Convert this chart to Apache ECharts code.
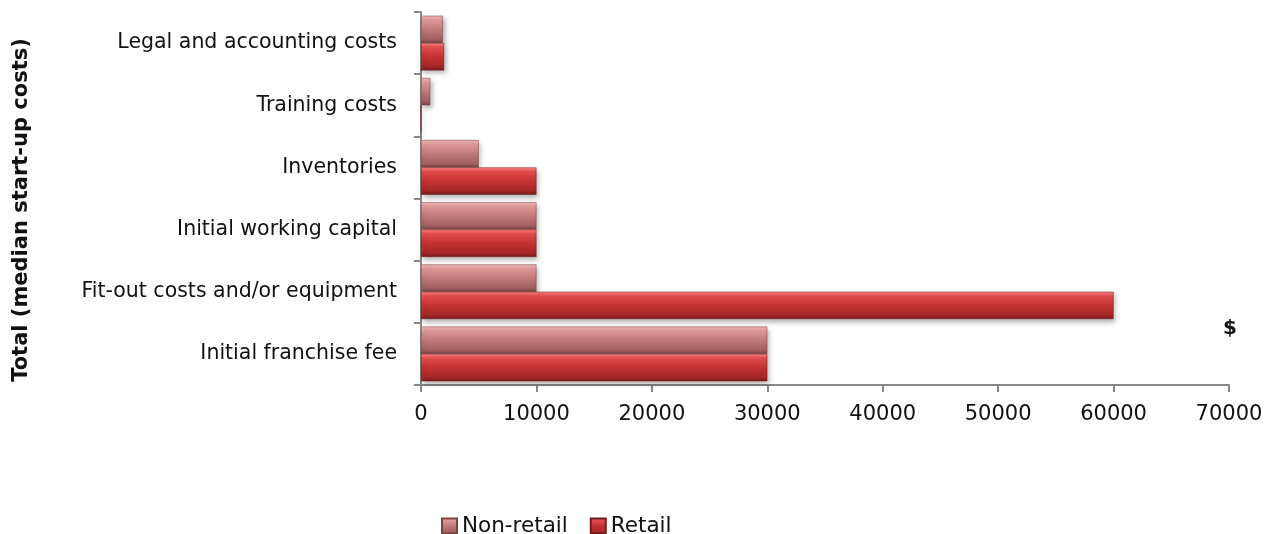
<!DOCTYPE html>
<html>
<head>
<meta charset="utf-8">
<script src="https://cdn.jsdelivr.net/npm/echarts@6/dist/echarts.min.js"></script>
<style>
  html, body { margin: 0; padding: 0; background: #ffffff; }
  #chart { width: 1276px; height: 534px; }
</style>
</head>
<body>
<div id="chart"></div>
<script>
// Cost items, listed bottom to top along the category axis
const categories = [
  'Initial franchise fee',
  'Fit-out costs and/or equipment',
  'Initial working capital',
  'Inventories',
  'Training costs',
  'Legal and accounting costs'
];
const nonRetail = [30000, 10000, 10000, 5000, 800, 1900];
const retail = [30000, 60000, 10000, 10000, 0, 2000];
const xTicks = { min: 0, max: 70000, interval: 10000 };

const FONT = '"DejaVu Sans", Verdana, sans-serif';

function bevel(top, upper, mid, lower, bottom) {
  return new echarts.graphic.LinearGradient(0, 0, 0, 1, [
    { offset: 0, color: top },
    { offset: 0.15, color: upper },
    { offset: 0.5, color: mid },
    { offset: 0.85, color: lower },
    { offset: 1, color: bottom }
  ]);
}

const nonRetailFill = bevel('#f4b8b8', '#e09a9a', '#c07a7a', '#a46060', '#7a4444');
const retailFill = bevel('#ff8484', '#e44e4e', '#c33232', '#a62828', '#761a1a');

const barShadow = {
  shadowBlur: 5,
  shadowOffsetX: 2,
  shadowOffsetY: 3,
  shadowColor: 'rgba(0,0,0,0.3)'
};

const chart = echarts.init(document.getElementById('chart'), null, { renderer: 'canvas' });
chart.setOption({
  animation: false,
  backgroundColor: '#ffffff',
  grid: { left: 421, right: 47, top: 12, bottom: 149, containLabel: false },
  legend: {
    data: ['Non-retail', 'Retail'],
    left: 436,
    top: 510,
    itemWidth: 15,
    itemHeight: 15,
    itemGap: 22,
    icon: 'rect',
    textStyle: { fontFamily: FONT, fontSize: 21.5, color: '#111' }
  },
  xAxis: {
    type: 'value',
    min: xTicks.min,
    max: xTicks.max,
    interval: xTicks.interval,
    axisLine: { show: true, lineStyle: { color: '#888', width: 2 } },
    axisTick: { show: true, length: 7, lineStyle: { color: '#888', width: 2 } },
    splitLine: { show: false },
    axisLabel: {
      fontFamily: FONT, fontSize: 21, color: '#111', margin: 19,
      formatter: function (v) { return String(v); }
    }
  },
  yAxis: {
    type: 'category',
    data: categories,
    axisLine: { show: true, lineStyle: { color: '#888', width: 2 } },
    axisTick: { show: true, length: 7, lineStyle: { color: '#888', width: 2 } },
    axisLabel: { fontFamily: FONT, fontSize: 20.5, color: '#111', margin: 24 }
  },
  graphic: [
    {
      type: 'text',
      x: 22,
      y: 210,
      rotation: Math.PI / 2,
      style: {
        text: 'Total (median start-up costs)',
        font: 'bold 21px ' + FONT,
        fill: '#111',
        align: 'center',
        verticalAlign: 'middle'
      }
    },
    {
      type: 'text',
      left: 1223,
      top: 319,
      style: { text: '$', font: 'bold 20px ' + FONT, fill: '#111' }
    }
  ],
  series: [
    {
      name: 'Non-retail',
      type: 'bar',
      data: nonRetail,
      barGap: '0%',
      barCategoryGap: '12%',
      itemStyle: Object.assign({ color: nonRetailFill, borderColor: '#7a4444', borderWidth: 0.5 }, barShadow)
    },
    {
      name: 'Retail',
      type: 'bar',
      data: retail,
      barGap: '0%',
      barCategoryGap: '12%',
      itemStyle: Object.assign({ color: retailFill, borderColor: '#761a1a', borderWidth: 0.5 }, barShadow)
    }
  ]
});
</script>
</body>
</html>
